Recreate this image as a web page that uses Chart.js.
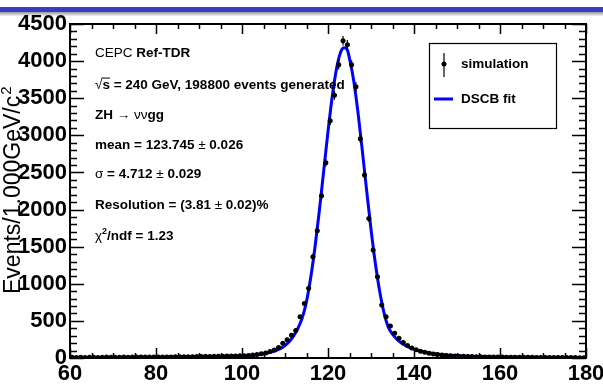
<!DOCTYPE html>
<html>
<head>
<meta charset="utf-8">
<script src="https://cdn.jsdelivr.net/npm/chart.js@4.4.1/dist/chart.umd.min.js"></script>
<style>
  html, body { margin: 0; padding: 0; background: #fff; }
  #wrap { width: 603px; height: 387px; position: relative; overflow: hidden; }
</style>
</head>
<body>
<div id="wrap"><canvas id="massChart" width="603" height="387"></canvas></div>
<script>
// histogram: 1 GeV bins from 60 to 180
const binLow = 60;
const binWidth = 1;
const counts = [
    9, 7, 10, 8, 9, 11, 8, 10, 12, 9,
    11, 10, 12, 11, 12, 13, 12, 13, 14, 13,
    14, 14, 15, 15, 16, 16, 17, 18, 18, 19,
    20, 22, 21, 23, 25, 24, 27, 28, 27, 30,
    31, 34, 40, 47, 56, 68, 86, 108, 140, 200,
    245, 305, 370, 555, 735, 940, 1365, 1715, 2185, 2630,
    3195, 3540, 3950, 4275, 4220, 3950, 3655, 2955, 2465, 1880,
    1455, 1095, 715, 555, 430, 335, 265, 210, 168, 135,
    110, 92, 76, 64, 54, 46, 40, 35, 31, 28,
    25, 22, 20, 19, 17, 16, 15, 14, 13, 13,
    12, 11, 11, 10, 10, 9, 9, 9, 8, 8,
    8, 7, 7, 7, 6, 6, 6, 6, 5, 5
];
const countErrs = [
    3, 3, 3, 3, 3, 3, 3, 3, 3, 3,
    3, 3, 3, 3, 3, 4, 3, 4, 4, 4,
    4, 4, 4, 4, 4, 4, 4, 4, 4, 4,
    4, 5, 5, 5, 5, 5, 5, 5, 5, 5,
    6, 6, 6, 7, 7, 8, 9, 10, 12, 14,
    16, 17, 19, 24, 27, 31, 37, 41, 47, 51,
    57, 59, 63, 65, 65, 63, 60, 54, 50, 43,
    38, 33, 27, 24, 21, 18, 16, 14, 13, 12,
    10, 10, 9, 8, 7, 7, 6, 6, 6, 5,
    5, 5, 4, 4, 4, 4, 4, 4, 4, 4,
    3, 3, 3, 3, 3, 3, 3, 3, 3, 3,
    3, 3, 3, 3, 2, 2, 2, 2, 2, 2
];

// DSCB fit curve
const fitX = [60, 70, 80, 85, 90, 95, 98, 100, 102, 104, 105, 106, 107, 108, 109, 110, 111, 112, 113, 114,
    115, 116, 117, 118, 119, 120, 121, 122, 123, 123.75, 124.5, 125, 126, 127, 128, 129, 130, 131, 132, 133,
    134, 135, 136, 137, 138, 139, 140, 142, 144, 146, 148, 150, 155, 160, 170, 180];
const fitY = [6, 8, 11, 13, 16, 21, 26, 30, 37, 48, 56, 67, 82, 102, 130, 168, 222, 298, 400, 540,
    760, 1090, 1505, 1990, 2520, 3050, 3530, 3905, 4130, 4180, 4150, 4035, 3730, 3295, 2785, 2250, 1735, 1280, 905, 615,
    420, 320, 255, 205, 168, 140, 117, 85, 63, 48, 38, 30, 20, 14, 9, 6];

const xTickStep = 20;
const yTickStep = 500;

const infoLines = [
    [['CEPC ', false], ['Ref-TDR', true]],
    [['SQRT', true], [' = 240 GeV, 198800 events generated', true]],
    [['ZH ', true], ['\u2192', false], [' \u03BD\u03BD', false], ['gg', true]],
    [['mean = 123.745 ', true], ['\u00B1', false], [' 0.026', true]],
    [['\u03C3', false], [' = 4.712 ', true], ['\u00B1', false], [' 0.029', true]],
    [['Resolution = (3.81 ', true], ['\u00B1', false], [' 0.02)%', true]],
    [['\u03C7', false], ['SUP2', true], ['/ndf = 1.23', true]]
];
const infoY = [53, 85, 115, 145, 174, 205, 236];

const FONT = '"Liberation Sans", Arial, Helvetica, sans-serif';

const points = counts.map((c, i) => ({ x: binLow + (i + 0.5) * binWidth, y: c }));
const curve = fitX.map((x, i) => ({ x: x, y: fitY[i] }));

const drawRich = (ctx, x, y, parts, size) => {
    let cx = x;
    parts.forEach(([t, bold]) => {
        if (t === 'SQRT') {
            ctx.font = size + 'px ' + FONT;
            ctx.fillText('\u221A', cx, y);
            cx += ctx.measureText('\u221A').width;
            ctx.font = 'bold ' + size + 'px ' + FONT;
            const w = ctx.measureText('s').width;
            ctx.fillText('s', cx, y);
            ctx.fillRect(cx - 1, y - size * 0.55, w + 1, 1);
            cx += w;
            return;
        }
        if (t === 'SUP2') {
            ctx.font = 'bold ' + Math.round(size * 0.7) + 'px ' + FONT;
            ctx.fillText('2', cx, y - size * 0.3);
            cx += ctx.measureText('2').width;
            return;
        }
        ctx.font = (bold ? 'bold ' : '') + size + 'px ' + FONT;
        ctx.fillText(t, cx, y);
        cx += ctx.measureText(t).width;
    });
};

const rootLook = {
    id: 'rootLook',
    beforeDraw(chart) {
        const ctx = chart.ctx;
        ctx.save();
        ctx.fillStyle = '#fff';
        ctx.fillRect(0, 0, chart.width, chart.height);
        // window band at the top
        ctx.fillStyle = '#3a3ac8';
        ctx.fillRect(0, 7, chart.width, 5);
        const g = ctx.createLinearGradient(0, 12, 0, 16);
        g.addColorStop(0, '#9a9a9a');
        g.addColorStop(1, '#f2f2f2');
        ctx.fillStyle = g;
        ctx.fillRect(0, 12, chart.width, 4);
        // y axis title
        ctx.translate(20, 294);
        ctx.rotate(-Math.PI / 2);
        ctx.fillStyle = '#000';
        ctx.textBaseline = 'alphabetic';
        ctx.font = '23px ' + FONT;
        const t = 'Events/1.000GeV/c';
        ctx.fillText(t, 0, 0);
        const w = ctx.measureText(t).width;
        ctx.font = '15px ' + FONT;
        ctx.fillText('2', w + 1, -9);
        ctx.restore();
    },
    afterDatasetsDraw(chart) {
        const ctx = chart.ctx;
        const xs = chart.scales.x, ys = chart.scales.y;
        const a = chart.chartArea;
        ctx.save();
        // error bars
        ctx.strokeStyle = '#000';
        ctx.lineWidth = 1.2;
        points.forEach((p, i) => {
            const px = xs.getPixelForValue(p.x);
            const y1 = ys.getPixelForValue(p.y - countErrs[i]);
            const y2 = ys.getPixelForValue(p.y + countErrs[i]);
            const xl = xs.getPixelForValue(p.x - binWidth / 2);
            const xr = xs.getPixelForValue(p.x + binWidth / 2);
            const py = ys.getPixelForValue(p.y);
            ctx.beginPath();
            ctx.moveTo(px, Math.min(y1, a.bottom));
            ctx.lineTo(px, y2);
            ctx.moveTo(xl, py);
            ctx.lineTo(xr, py);
            ctx.stroke();
        });
        // frame
        ctx.lineWidth = 2;
        ctx.strokeRect(a.left, a.top, a.right - a.left, a.bottom - a.top);
        // inward ticks
        ctx.lineWidth = 1.5;
        ctx.beginPath();
        for (let v = xs.min; v <= xs.max + 0.001; v += xTickStep / 4) {
            const px = Math.round(xs.getPixelForValue(v)) + 0.5;
            const len = (Math.abs((v - xs.min) % xTickStep) < 0.001) ? 10 : 5;
            ctx.moveTo(px, a.bottom);
            ctx.lineTo(px, a.bottom - len);
            ctx.moveTo(px, a.top);
            ctx.lineTo(px, a.top + len);
        }
        for (let v = ys.min; v <= ys.max + 0.001; v += yTickStep / 5) {
            const py = Math.round(ys.getPixelForValue(v)) + 0.5;
            const len = (Math.abs(v % yTickStep) < 0.001) ? 14 : 7;
            ctx.moveTo(a.left, py);
            ctx.lineTo(a.left + len, py);
            ctx.moveTo(a.right, py);
            ctx.lineTo(a.right - len, py);
        }
        ctx.stroke();
        ctx.restore();
    },
    afterDraw(chart) {
        const ctx = chart.ctx;
        ctx.save();
        ctx.fillStyle = '#000';
        ctx.textBaseline = 'middle';
        infoLines.forEach((parts, i) => drawRich(ctx, 95, infoY[i], parts, 13.5));
        // legend
        ctx.fillStyle = '#fff';
        ctx.fillRect(429, 43, 127, 85);
        ctx.strokeStyle = '#000';
        ctx.lineWidth = 1.2;
        ctx.strokeRect(429.5, 43.5, 127, 85);
        ctx.beginPath();
        ctx.moveTo(444, 53);
        ctx.lineTo(444, 77);
        ctx.stroke();
        ctx.fillStyle = '#000';
        ctx.beginPath();
        ctx.arc(444, 64, 2.5, 0, Math.PI * 2);
        ctx.fill();
        ctx.strokeStyle = '#0000ff';
        ctx.lineWidth = 3;
        ctx.beginPath();
        ctx.moveTo(434, 99);
        ctx.lineTo(453, 99);
        ctx.stroke();
        ctx.font = 'bold 13.5px ' + FONT;
        ctx.fillText('simulation', 461, 64);
        ctx.fillText('DSCB fit', 461, 99);
        ctx.restore();
    }
};

new Chart(document.getElementById('massChart'), {
    type: 'scatter',
    data: {
        datasets: [
            {
                label: 'simulation',
                data: points,
                showLine: false,
                pointRadius: 2.5,
                pointBackgroundColor: '#000',
                pointBorderWidth: 0,
                order: 1
            },
            {
                label: 'DSCB fit',
                type: 'line',
                data: curve,
                borderColor: '#0000ff',
                borderWidth: 3,
                pointRadius: 0,
                cubicInterpolationMode: 'monotone',
                fill: false,
                order: 2
            }
        ]
    },
    options: {
        responsive: false,
        animation: false,
        events: [],
        layout: { padding: { top: 24, right: 17, left: 0, bottom: 0 } },
        plugins: {
            legend: { display: false },
            tooltip: { enabled: false },
            title: { display: false }
        },
        scales: {
            x: {
                type: 'linear',
                min: 60,
                max: 180,
                grid: { display: false, drawTicks: false },
                border: { display: false },
                ticks: {
                    stepSize: xTickStep,
                    autoSkip: false,
                    maxRotation: 0,
                    padding: 3,
                    color: '#000',
                    font: { family: FONT, weight: 'bold', size: 22 },
                    callback: v => String(v)
                },
                afterFit(s) { s.height = 29; s.paddingLeft = 0; s.paddingRight = 0; }
            },
            y: {
                min: 0,
                max: 4500,
                grid: { display: false, drawTicks: false },
                border: { display: false },
                ticks: {
                    stepSize: yTickStep,
                    padding: 3,
                    color: '#000',
                    font: { family: FONT, weight: 'bold', size: 22 },
                    callback: v => String(v)
                },
                afterFit(s) { s.width = 70; s.paddingTop = 0; s.paddingBottom = 0; }
            }
        }
    },
    plugins: [rootLook]
});
</script>
</body>
</html>
